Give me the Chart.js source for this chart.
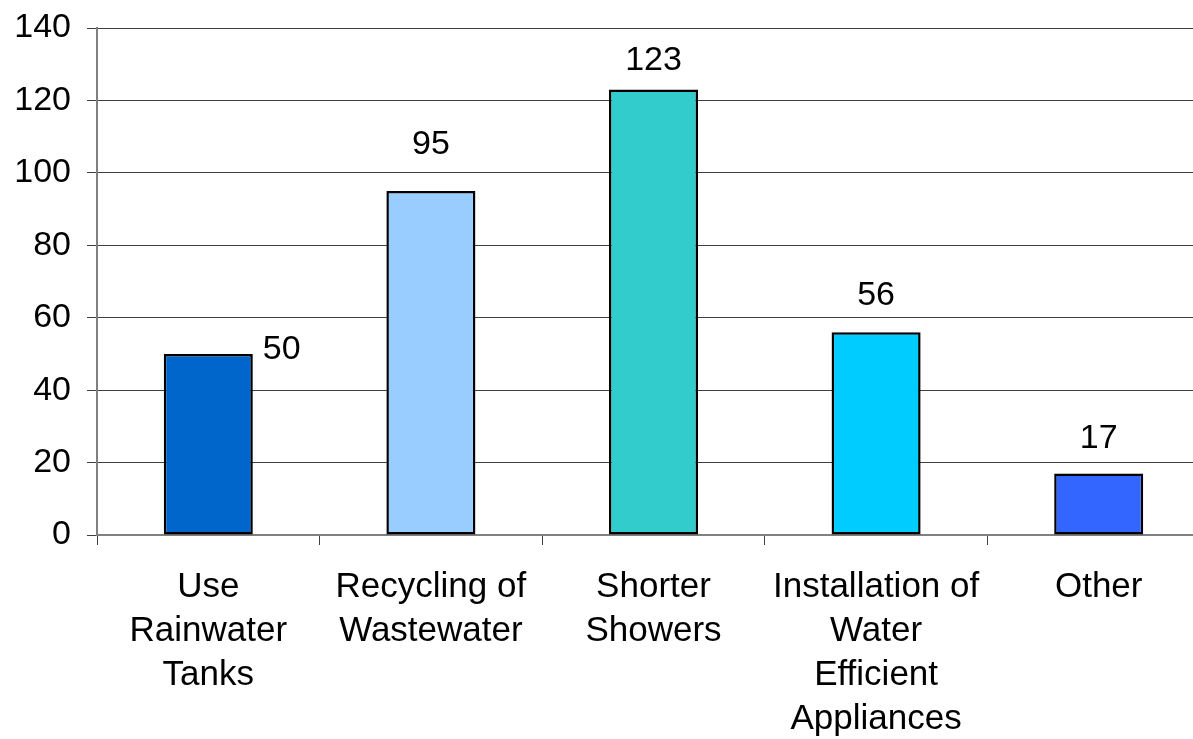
<!DOCTYPE html>
<html>
<head>
<meta charset="utf-8">
<script src="https://cdn.jsdelivr.net/npm/chart.js@4.4.0/dist/chart.umd.min.js"></script>
<style>
  html, body { margin: 0; padding: 0; background: #fff; overflow: hidden; }
  #wrap { width: 1193px; height: 739px; overflow: hidden; }
  #box { width: 1210px; height: 739px; }
</style>
</head>
<body>
<div id="wrap"><div id="box"><canvas id="grafico"></canvas></div></div>
<script>
// datos del grafico
const categorias = [
  ['Use', 'Rainwater', 'Tanks'],
  ['Recycling of', 'Wastewater'],
  ['Shorter', 'Showers'],
  ['Installation of', 'Water', 'Efficient', 'Appliances'],
  ['Other']
];
const valores = [50, 95, 123, 56, 17];
const colores = ['#0066CC', '#99CCFF', '#33CCCC', '#00CCFF', '#3366FF'];

// estilo de las etiquetas (lado y separacion respecto a la barra)
const posicionEtiqueta = ['right', 'top', 'top', 'top', 'top'];
const separacionEtiqueta = [4, 46, 29, 37, 35];

// Etiquetas de valores sobre las barras
const etiquetasPlugin = {
  id: 'etiquetas',
  afterDatasetsDraw(chart) {
    const ctx = chart.ctx;
    const meta = chart.getDatasetMeta(0);
    ctx.save();
    ctx.font = '34px "Liberation Sans", Arial, sans-serif';
    ctx.fillStyle = '#000';
    ctx.textBaseline = 'middle';
    meta.data.forEach(function(bar, i){
      if(posicionEtiqueta[i] == 'right'){
        ctx.textAlign = 'left';
        ctx.fillText(valores[i], bar.x + bar.width / 2 + 10, bar.y - separacionEtiqueta[i]);
      }else{
        ctx.textAlign = 'center';
        ctx.fillText(valores[i], bar.x, bar.y - separacionEtiqueta[i]);
      }
    });
    ctx.restore();
  }
};

const ctx = document.getElementById('grafico').getContext('2d');
new Chart(ctx, {
  type: 'bar',
  data: {
    labels: categorias,
    datasets: [{
      data: valores,
      backgroundColor: colores,
      borderColor: '#000',
      borderWidth: 2.5,
      borderSkipped: false,
      barPercentage: 0.4,
      categoryPercentage: 1.0
    }]
  },
  options: {
    responsive: true,
    maintainAspectRatio: false,
    animation: false,
    layout: { padding: { top: 28, right: 0, left: 0, bottom: 0 } },
    plugins: {
      legend: { display: false },
      tooltip: { enabled: false }
    },
    scales: {
      x: {
        offset: true,
        grid: {
          display: true,
          offset: true,
          drawOnChartArea: false,
          drawTicks: true,
          tickLength: 10,
          tickColor: '#404040',
          tickWidth: 1
        },
        border: { display: true, color: '#808080', width: 2 },
        ticks: {
          color: '#000',
          font: { family: '"Liberation Sans", Arial, sans-serif', size: 35, lineHeight: 1.26 },
          padding: 20,
          maxRotation: 0,
          autoSkip: false
        },
        afterFit(scale){ scale.height = 204; }
      },
      y: {
        min: 0,
        max: 140,
        ticks: {
          stepSize: 20,
          color: '#000',
          font: { family: '"Liberation Sans", Arial, sans-serif', size: 34 },
          padding: 16
        },
        grid: {
          color: '#404040',
          lineWidth: 1,
          tickLength: 10,
          drawTicks: true
        },
        border: { display: true, color: '#808080', width: 2 },
        afterFit(scale){
          scale.width = 97;
          scale.paddingTop = 0;
        }
      }
    }
  },
  plugins: [etiquetasPlugin]
});
</script>
</body>
</html>
